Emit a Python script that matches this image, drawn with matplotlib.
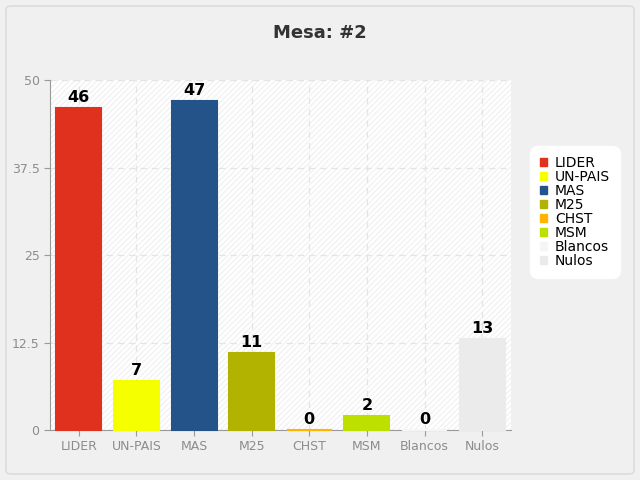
import matplotlib.pyplot as plt
from matplotlib.patches import FancyBboxPatch, Rectangle

# Chart data
parties = ['LIDER', 'UN-PAIS', 'MAS', 'M25', 'CHST', 'MSM', 'Blancos', 'Nulos']
votes = [46, 7, 47, 11, 0, 2, 0, 13]
colors = ['#e0301e', '#f5ff00', '#24538a', '#b2b200', '#ffb400', '#bde000', '#f5f5f5', '#ebebeb']
yticks = [0, 12.5, 25, 37.5, 50]

fig = plt.figure(figsize=(6.4, 4.8), dpi=100)
fig.patch.set_facecolor('#f0f0f0')

# outer rounded frame
frame = FancyBboxPatch((6 / 640, 6 / 480), 628 / 640, 468 / 480,
                       boxstyle='round,pad=0,rounding_size=0.008',
                       transform=fig.transFigure, facecolor='#f0f0f0',
                       edgecolor='#dcdcdc', linewidth=1.2, zorder=-10)
fig.patches.append(frame)

ax = fig.add_axes([50 / 640, 50 / 480, 461 / 640, 350 / 480])
ax.set_zorder(2)
ax.set_facecolor('white')

# faint diagonal hatch in the background
bg = Rectangle((0, 0), 1, 1, transform=ax.transAxes, facecolor='white',
               edgecolor='#f2f2f2', hatch='//////', linewidth=0, zorder=0)
ax.add_patch(bg)

x = range(len(parties))
bars = ax.bar(x, votes, width=0.78, color=colors, edgecolor=colors, linewidth=1.5, zorder=3)
for b in bars:
    b.set_clip_on(False)

for xi, v in zip(x, votes):
    ax.text(xi, v + 0.4, str(v), ha='center', va='bottom', fontsize=11.5,
            fontweight='bold', color='black', zorder=4)

ax.set_xlim(-0.5, len(parties) - 0.5)
ax.set_ylim(0, 50)
ax.set_yticks(yticks)
ax.set_yticklabels(['0', '12.5', '25', '37.5', '50'])
ax.set_xticks(list(x))
ax.set_xticklabels(parties)
ax.tick_params(colors='#999999', labelcolor='#8c8c8c', labelsize=9, length=4)

ax.grid(True, color='#e4e4e4', linestyle=(0, (5, 4)), linewidth=0.9, zorder=1)
ax.set_axisbelow(True)

for s in ['top', 'right']:
    ax.spines[s].set_visible(False)
for s in ['left', 'bottom']:
    ax.spines[s].set_color('#999999')

fig.text(0.5, 447 / 480, 'Mesa: #2', ha='center', va='center', fontsize=13,
         fontweight='bold', color='#333333')

handles = [plt.Rectangle((0, 0), 1, 1, color=c) for c in colors]
leg = fig.legend(handles, parties, loc='center', bbox_to_anchor=(575 / 640, 268 / 480),
                 fontsize=10, frameon=True, handlelength=0.5, handleheight=0.5,
                 handletextpad=0.6, labelspacing=0.0, borderpad=0.5,
                 fancybox=True, facecolor='white', edgecolor='white', framealpha=1)
leg.get_frame().set_boxstyle('round', pad=0.2, rounding_size=0.6)

fig.savefig('out.png', dpi=100, facecolor=fig.get_facecolor())
